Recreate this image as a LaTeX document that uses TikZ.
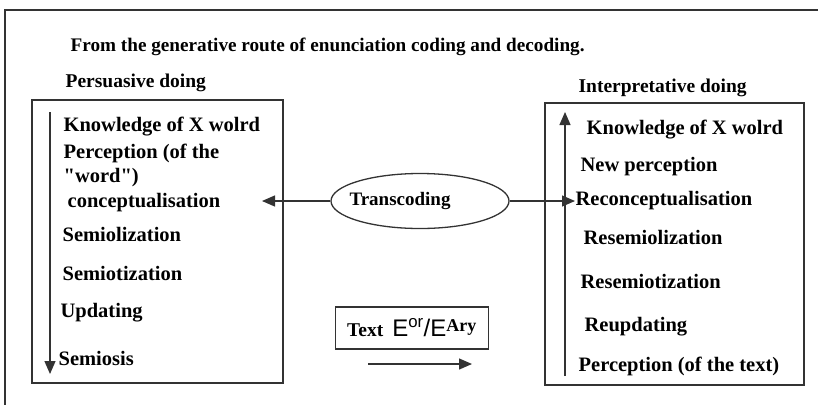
\documentclass[tikz,border=0pt]{standalone}
\usepackage{fontspec}
\setmainfont{Liberation Serif}
\newfontfamily\eorfont{Liberation Sans}
\usepackage{tikz}
\usetikzlibrary{shapes}
\usetikzlibrary{arrows.meta}
\tikzset{
	step node/.style={anchor=west,inner sep=0pt,font=\fontsize{20.5}{22}\selectfont\bfseries},
	head node/.style={anchor=west,inner sep=0pt,font=\fontsize{19.5}{21}\selectfont\bfseries},
	doing box/.style={draw=black!80,line width=1.3pt},
	trans node/.style={ellipse,draw=black!80,line width=1.3pt,minimum width=178pt,minimum height=55pt,
		font=\fontsize{19}{21}\selectfont\bfseries}
}
\begin{document}
\begin{tikzpicture}[x=1pt,y=-1pt,>={Triangle[length=13pt,width=11pt]},line width=1.3pt,draw=black!80]
	\useasboundingbox (0,0) rectangle (818,405);
	% frame
	\draw (818,10) -- (5,10) -- (5,405);
	\node [head node,font=\fontsize{19.2}{21}\selectfont\bfseries] (title) at (70,47) {From the generative route of enunciation coding and decoding.};
	\node [head node] (pd) at (65,83) {Persuasive doing};
	\node [head node] (id) at (578,88) {Interpretative doing};
	% boxes
	\draw [doing box] (32,100) rectangle (283,383);
	\draw [doing box] (545,103) rectangle (804,385);
	% persuasive side
	\node [step node] (p1) at (63,127) {Knowledge of X wolrd};
	\node [step node] (p2) at (63,153) {Perception (of the};
	\node [step node] (p3) at (63,178) {\textquotedbl word\textquotedbl)};
	\node [step node] (p4) at (67,203) {conceptualisation};
	\node [step node] (p5) at (62,234) {Semiolization};
	\node [step node] (p6) at (62,273) {Semiotization};
	\node [step node] (p7) at (60,313) {Updating};
	\node [step node] (p8) at (58,358) {Semiosis};
	\coordinate (ptop) at (50,112);
	\coordinate (pbot) at (50,374);
	\draw [->] (ptop) -- (pbot);
	% interpretative side
	\node [step node] (i1) at (586,130) {Knowledge of X wolrd};
	\node [step node] (i2) at (580,167) {New perception};
	\node [step node] (i3) at (575,201) {Reconceptualisation};
	\node [step node] (i4) at (583,237) {Resemiolization};
	\node [step node] (i5) at (580,281) {Resemiotization};
	\node [step node] (i6) at (584,327) {Reupdating};
	\node [step node] (i7) at (578,366) {Perception (of the text)};
	\coordinate (ibot) at (565,376);
	\coordinate (itop) at (565,112);
	\draw [->] (ibot) -- (itop);
	% transcoding
	\node [trans node] (tr) at (420,201) {\hspace*{-40pt}Transcoding};
	\coordinate (tl) at (262,201);
	\draw [->] (tr.west) -- (tl);
	\draw [->] (tr.east) -- (i3.west);
	% text box
	\node [doing box,minimum width=153pt,minimum height=42pt,inner sep=0pt] (tx) at (412,328)
		{{\fontsize{19.5}{21}\selectfont\bfseries Text}\hspace{9pt}{\eorfont\fontsize{24}{26}\selectfont E\textsuperscript{or}/E}\textsuperscript{\fontsize{18}{18}\selectfont\bfseries Ary}};
	\coordinate (ta) at (368,364);
	\coordinate (tb) at (472,364);
	\draw [->] (ta) -- (tb);
\end{tikzpicture}
\end{document}
